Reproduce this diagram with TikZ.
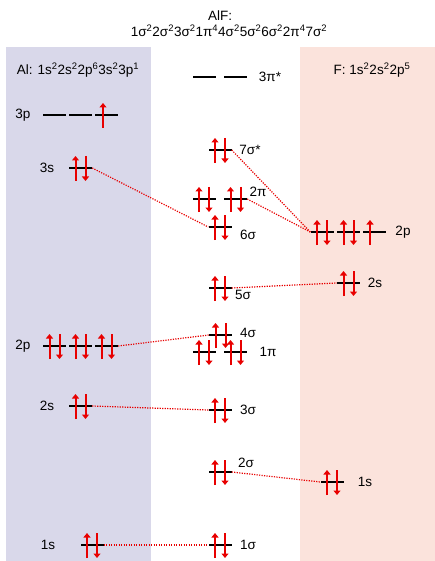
\documentclass[tikz,border=0pt]{standalone}
\usepackage{fontspec}
\setmainfont{Liberation Sans}
\usetikzlibrary{arrows.meta}
\definecolor{alpanel}{HTML}{D9D8EA}
\definecolor{fpanel}{HTML}{FBE3DC}
\definecolor{ered}{HTML}{E80000}
\newcommand{\eup}[2]{\draw[elec] (#1,#2+13) -- (#1,#2-12);}
\newcommand{\edn}[2]{\draw[elec] (#1,#2-12) -- (#1,#2+13);}
\newcommand{\epair}[2]{\eup{#1-5}{#2}\edn{#1+5}{#2}}
\begin{document}
\begin{tikzpicture}[x=1pt,y=-1pt,
  lvl/.style={rectangle,fill=black,inner sep=0pt,minimum width=23pt,minimum height=2.4pt},
  lab/.style={font=\fontsize{13.5}{15}\selectfont,inner sep=0pt},
  elec/.style={ered,line width=2pt,-{Triangle[width=7pt,length=4.5pt]}},
  corr/.style={ered,line width=1.2pt,dash pattern=on 1.2pt off 1.3pt}]
\useasboundingbox (0,0) rectangle (435,561);
\fill[alpanel] (6,47) rectangle (151,561);
\fill[fpanel] (300,47) rectangle (435,561);
% headers
\node[lab] (ttl) at (220,16) {AlF:};
\node[lab] (cfg) at (229,31) {1σ\textsuperscript{2}2σ\textsuperscript{2}3σ\textsuperscript{2}1π\textsuperscript{4}4σ\textsuperscript{2}5σ\textsuperscript{2}6σ\textsuperscript{2}2π\textsuperscript{4}7σ\textsuperscript{2}};
\node[lab] (alh) at (78,70) {Al: 1s\textsuperscript{2}2s\textsuperscript{2}2p\textsuperscript{6}3s\textsuperscript{2}3p\textsuperscript{1}};
\node[lab] (fh) at (372,70) {F: 1s\textsuperscript{2}2s\textsuperscript{2}2p\textsuperscript{5}};
% Al levels
\node[lvl] (al3pa) at (54.5,115) {};
\node[lvl] (al3pb) at (80.5,115) {};
\node[lvl] (al3pc) at (106.5,115) {};
\node[lvl] (al3s) at (80.5,168) {};
\node[lvl] (al2pa) at (54.5,346) {};
\node[lvl] (al2pb) at (80.5,346) {};
\node[lvl] (al2pc) at (106.5,346) {};
\node[lvl] (al2s) at (80.5,406) {};
\node[lvl] (al1s) at (92,545) {};
\node[lab] (tal3p) at (23,115) {3p};
\node[lab] (tal3s) at (47,168) {3s};
\node[lab] (tal2p) at (23,346) {2p};
\node[lab] (tal2s) at (47,406) {2s};
\node[lab] (tal1s) at (48,545) {1s};
% MO levels
\node[lvl] (pi3a) at (204,77) {};
\node[lvl] (pi3b) at (235.5,77) {};
\node[lvl] (s7) at (220,150) {};
\node[lvl] (pi2a) at (204,199) {};
\node[lvl] (pi2b) at (235.5,199) {};
\node[lvl] (s6) at (220,227) {};
\node[lvl] (s5) at (220,288) {};
\node[lvl] (s4) at (220.5,335) {};
\node[lvl] (pi1a) at (204,352) {};
\node[lvl] (pi1b) at (235.5,352) {};
\node[lvl] (s3) at (220,410) {};
\node[lvl] (s2) at (220,472) {};
\node[lvl] (s1) at (220,545) {};
\node[lab] (tpi3) at (270,77) {3π*};
\node[lab] (ts7) at (250,150) {7σ*};
\node[lab] (tpi2) at (258,192) {2π};
\node[lab] (ts6) at (248,235) {6σ};
\node[lab] (ts5) at (243,295) {5σ};
\node[lab] (ts4) at (248,333) {4σ};
\node[lab] (tpi1) at (268,352) {1π};
\node[lab] (ts3) at (248,410) {3σ};
\node[lab] (ts2) at (246,463) {2σ};
\node[lab] (ts1) at (248,545) {1σ};
% F levels
\node[lvl] (f2pa) at (322,232) {};
\node[lvl] (f2pb) at (348.5,232) {};
\node[lvl] (f2pc) at (374.5,232) {};
\node[lvl] (f2s) at (348.5,283) {};
\node[lvl] (f1s) at (332,482) {};
\node[lab] (tf2p) at (403,232) {2p};
\node[lab] (tf2s) at (375,283) {2s};
\node[lab] (tf1s) at (365,482) {1s};
% correlation lines
\draw[corr] (al3s.east) -- (s6.west);
\draw[corr] (s7.east) -- (f2pa.west);
\draw[corr] (pi2b.east) -- (f2pa.west);
\draw[corr] (s5.east) -- (f2s.west);
\draw[corr] (al2pc.east) -- (s4.west);
\draw[corr] (al2s.east) -- (s3.west);
\draw[corr] (s2.east) -- (f1s.west);
\draw[corr] (al1s.east) -- (s1.west);
% electrons
\eup{103}{115}
\epair{80.5}{168}
\epair{54.5}{346}\epair{80.5}{346}\epair{106.5}{346}
\epair{80.5}{406}
\epair{92}{545}
\epair{220}{150}
\epair{204}{199}\epair{235.5}{199}
\epair{220}{227}
\epair{220}{288}
\epair{220.5}{335}
\epair{204}{352}\epair{235.5}{352}
\epair{220}{410}
\epair{220}{472}
\epair{220}{545}
\epair{322}{232}\epair{348.5}{232}\eup{370}{232}
\epair{348.5}{283}
\epair{332}{482}
\end{tikzpicture}
\end{document}
